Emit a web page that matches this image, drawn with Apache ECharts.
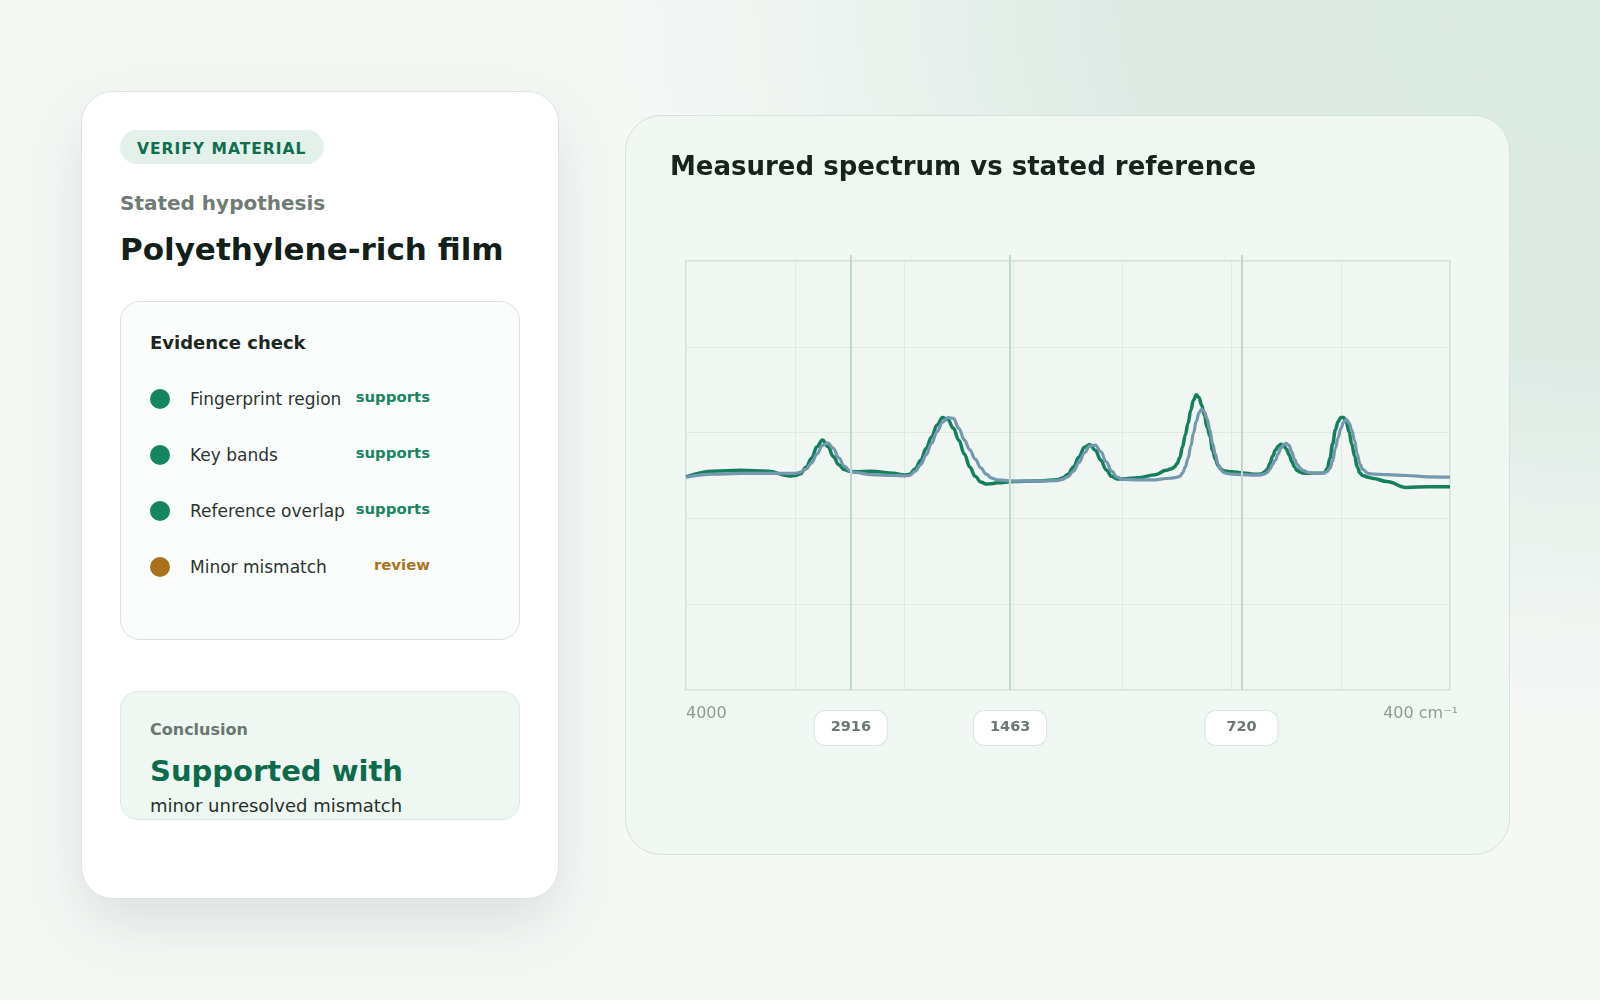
<!DOCTYPE html>
<html>
<head>
<meta charset="utf-8">
<title>Verify material</title>
<script src="https://cdn.jsdelivr.net/npm/echarts@6/dist/echarts.min.js"></script>
<style>
html, body { margin: 0; padding: 0; }
body {
	width: 1600px; height: 1000px; overflow: hidden; position: relative;
	font-family: 'DejaVu Sans', sans-serif; background: #f6f8f6;
}
.glow {
	position: absolute; left: 0; top: 0; width: 1600px; height: 1000px;
	background: radial-gradient(ellipse 1000px 720px at 1620px 0px, #dbeae3 0%, #deebe5 50%, rgba(246,248,246,0) 100%);
}
.card {
	position: absolute; left: 81px; top: 91px; width: 478px; height: 808px; box-sizing: border-box;
	background: #fff; border: 1.5px solid #dde5e0; border-radius: 32px;
	box-shadow: 0 26px 64px rgba(30, 50, 40, 0.12);
}
.pill {
	position: absolute; left: 38px; top: 38px; width: 204px; height: 34px; border-radius: 17px;
	background: #e3f1ea; color: #0f6e4e; font-weight: bold; font-size: 15.5px; line-height: 38px;
	box-sizing: border-box; padding-left: 17px; letter-spacing: 1px;
}
.sub { position: absolute; left: 38px; top: 99px; font-size: 20px; line-height: 24px; font-weight: bold; color: #6f7b75; }
.head { position: absolute; left: 38px; top: 138px; font-size: 31px; line-height: 38px; font-weight: bold; color: #13201a; white-space: nowrap; }
.evidence {
	position: absolute; left: 38px; top: 209px; width: 400px; height: 339px; box-sizing: border-box;
	border: 1.5px solid #d9e3de; border-radius: 20px; background: #fbfdfc;
}
.evidence h4 { position: absolute; left: 29px; top: 30px; margin: 0; font-size: 18px; line-height: 22px; color: #1c2722; }
.row { position: absolute; left: 0; width: 400px; height: 24px; }
.row .dot { position: absolute; left: 29px; top: 2px; width: 20px; height: 20px; border-radius: 50%; }
.row .lbl { position: absolute; left: 69px; top: 0; font-size: 17px; line-height: 24px; color: #2a3430; white-space: nowrap; }
.row .st { position: absolute; right: 91px; top: -2px; font-size: 14.9px; line-height: 24px; font-weight: bold; }
.conclusion {
	position: absolute; left: 38px; top: 599px; width: 400px; height: 129px; box-sizing: border-box;
	border: 1.5px solid #dde9e2; border-radius: 18px; background: #eff7f2;
}
.conclusion .k { position: absolute; left: 29px; top: 28px; font-size: 16px; line-height: 19px; font-weight: bold; color: #6a7670; }
.conclusion .big { position: absolute; left: 29px; top: 62px; font-size: 29px; line-height: 35px; font-weight: bold; color: #0b6b4b; white-space: nowrap; }
.conclusion .small { position: absolute; left: 29px; top: 103px; font-size: 18px; line-height: 22px; color: #26302b; white-space: nowrap; }
.panel {
	position: absolute; left: 625px; top: 115px; width: 885px; height: 740px; box-sizing: border-box;
	background: #f0f6f2; border: 1.5px solid #d5e2db; border-radius: 36px;
}
#spectrum { position: absolute; left: 625px; top: 115px; width: 885px; height: 740px; }
</style>
</head>
<body>
<div class="glow"></div>

<div class="card">
	<div class="pill">VERIFY MATERIAL</div>
	<div class="sub">Stated hypothesis</div>
	<div class="head">Polyethylene-rich film</div>
	<div class="evidence" id="evidence">
		<h4>Evidence check</h4>
	</div>
	<div class="conclusion">
		<div class="k">Conclusion</div>
		<div class="big">Supported with</div>
		<div class="small">minor unresolved mismatch</div>
	</div>
</div>

<div class="panel"></div>
<div id="spectrum"></div>

<script>
// evidence rows
var checkNames = ['Fingerprint region', 'Key bands', 'Reference overlap', 'Minor mismatch'];
var checkStates = ['supports', 'supports', 'supports', 'review'];

// spectrum: x is position along the plot (0 = 4000, 70 = 400 cm-1), y is signal
var wavePos = [
	0, 2.5, 5, 7.5, 9.5, 10,
	10.5, 11, 11.5, 12, 12.5, 13, 13.5, 14, 14.5, 15, 15.5,
	17, 19, 20,
	20.5, 21, 21.5, 22, 22.5, 23, 23.5, 24, 24.5, 25, 25.5, 26, 26.5, 27, 27.5, 28, 28.5,
	30, 32, 34,
	34.5, 35, 35.5, 36, 36.5, 37, 37.5, 38, 38.5, 39, 39.5, 40,
	41.5, 43, 44,
	44.5, 44.75, 45, 45.25, 45.5, 45.75, 46, 46.25, 46.5, 46.75, 47, 47.25, 47.5, 47.75, 48, 48.25, 48.5, 48.75, 49, 49.25, 49.5, 50, 51, 52,
	52.5, 52.75, 53, 53.25, 53.5, 53.75, 54, 54.25, 54.5, 54.75, 55, 55.25, 55.5, 55.75, 56, 56.25, 56.5, 57, 57.5,
	58, 58.25, 58.5, 58.75, 59, 59.25, 59.5, 59.75, 60, 60.25, 60.5, 60.75, 61, 61.25, 61.5, 61.75, 62, 62.5, 63, 64.2, 66, 68, 70
];
var measured = [
	49.7, 51.0, 51.2, 51.0, 49.9, 50.0,
	50.4, 51.9, 54.0, 56.7, 58.3, 56.8, 54.4, 52.5, 51.4, 51.0, 50.9,
	51.0, 50.5, 50.1,
	50.3, 51.6, 53.5, 56.3, 59.0, 61.8, 63.5, 63.0, 61.0, 58.2, 55.0, 52.0, 49.8, 48.5, 48.0, 48.1, 48.3,
	48.6, 48.7, 49.0,
	49.4, 50.3, 52.0, 54.3, 56.6, 57.2, 55.9, 53.6, 51.3, 49.8, 49.2, 49.2,
	49.5, 50.2, 51.2,
	51.6, 52.0, 52.8, 54.2, 56.7, 59.5, 62.2, 65.2, 67.6, 68.8, 68.2, 66.4, 64.0, 61.2, 59.2, 55.8, 53.8, 52.4, 51.6, 51.1, 51.0, 50.9, 50.6, 50.3,
	50.3, 50.4, 50.8, 51.4, 52.8, 54.5, 55.8, 56.8, 57.3, 57.1, 56.2, 54.9, 53.3, 52.0, 51.2, 50.8, 50.6, 50.5, 50.5,
	50.5, 50.5, 50.7, 51.6, 54.0, 57.4, 60.6, 62.6, 63.5, 63.5, 62.4, 60.2, 57.3, 54.6, 52.0, 50.6, 50.0, 49.6, 49.3, 48.6, 47.2, 47.4, 47.4
];
var reference = [
	49.6, 50.3, 50.5, 50.5, 50.5, 50.5,
	50.8, 51.5, 52.9, 55.0, 57.0, 57.6, 56.3, 54.1, 52.2, 51.1, 50.7,
	50.2, 50.0, 49.9,
	50.0, 51.0, 52.5, 54.8, 57.5, 60.2, 62.4, 63.5, 63.3, 61.0, 58.3, 56.0, 53.8, 51.8, 50.3, 49.4, 49.0,
	48.7, 48.7, 48.8,
	49.1, 49.7, 51.0, 53.0, 55.3, 56.9, 57.1, 55.6, 53.2, 51.0, 49.6, 49.1,
	49.0, 49.0, 49.3,
	49.4, 49.5, 49.6, 49.8, 50.6, 52.0, 54.0, 56.8, 59.9, 62.6, 64.6, 65.5, 64.8, 63.2, 60.6, 57.4, 55.0, 52.6, 51.4, 50.7, 50.5, 50.3, 50.2, 50.1,
	50.1, 50.2, 50.4, 50.7, 51.5, 52.6, 53.6, 55.0, 56.3, 57.2, 57.5, 57.0, 55.5, 53.8, 52.6, 51.8, 51.2, 50.7, 50.5,
	50.5, 50.5, 50.6, 50.9, 51.7, 53.4, 56.4, 58.8, 61.0, 62.4, 63.1, 62.3, 60.6, 58.2, 55.0, 52.6, 51.4, 50.5, 50.3, 50.2, 50.0, 49.7, 49.6
];
var bandPos = [15.1, 29.7, 50.9];
var bandLabels = ['2916', '1463', '720'];
var axisEnds = ['4000', '400 cm\u207B\u00B9'];

(function() {
	var box = document.getElementById('evidence');
	for (var i = 0; i < checkNames.length; i++) {
		var ok = checkStates[i] === 'supports';
		var row = document.createElement('div');
		row.className = 'row';
		row.style.top = (85 + i * 56) + 'px';
		row.innerHTML = '<span class="dot" style="background:' + (ok ? '#138560' : '#a8711c') + '"></span>' +
			'<span class="lbl">' + checkNames[i] + '</span>' +
			'<span class="st" style="color:' + (ok ? '#17855f' : '#a87320') + '">' + checkStates[i] + '</span>';
		box.appendChild(row);
	}
})();

var myChart = echarts.init(document.getElementById('spectrum'));

function pairs(ys) {
	return wavePos.map(function(x, i) { return [x, ys[i]]; });
}

var bandLines = bandPos.map(function(p, i) {
	return { xAxis: p, name: bandLabels[i] };
});

var option = {
	animation: false,
	title: {
		text: 'Measured spectrum vs stated reference',
		left: 40,
		top: 35,
		textStyle: { fontFamily: 'DejaVu Sans', fontSize: 26, fontWeight: 'bold', color: '#17231d' }
	},
	grid: [
		{ left: 61, right: 60, top: 146, bottom: 165, show: true, borderColor: '#d4e2da', borderWidth: 2, backgroundColor: 'transparent' },
		{ left: 61, right: 60, top: 140, bottom: 165 }
	],
	xAxis: [{
		type: 'value', gridIndex: 0, min: 0, max: 70, interval: 10,
		axisLine: { show: false }, axisTick: { show: false },
		splitLine: { lineStyle: { color: '#dfeae4', width: 1 } },
		axisLabel: {
			margin: 16, fontFamily: 'DejaVu Sans', fontSize: 16, color: '#8e9c95',
			alignMinLabel: 'left', alignMaxLabel: 'right',
			formatter: function(v) {
				if (v === 0) return axisEnds[0];
				if (v === 70) return '{end|' + axisEnds[1] + '}';
				return '';
			},
			rich: {
				end: { fontFamily: 'DejaVu Sans', fontSize: 16, color: '#8e9c95', padding: [0, -8, 0, 0] }
			}
		}
	}, {
		type: 'value', gridIndex: 1, min: 0, max: 70, show: false
	}],
	yAxis: [{
		type: 'value', gridIndex: 0, min: 0, max: 100, interval: 20,
		axisLine: { show: false }, axisTick: { show: false }, axisLabel: { show: false },
		splitLine: { lineStyle: { color: '#dfeae4', width: 1 } }
	}, {
		type: 'value', gridIndex: 1, min: 0, max: 100, show: false
	}],
	series: [{
		name: 'bands',
		type: 'line',
		xAxisIndex: 1,
		yAxisIndex: 1,
		data: [],
		z: 1,
		silent: true,
		markLine: {
			silent: true,
			symbol: ['none', 'none'],
			lineStyle: { color: '#c3d8cc', width: 2, type: 'solid' },
			label: {
				position: 'start',
				distance: 21,
				formatter: '{b}',
				fontFamily: 'DejaVu Sans',
				fontSize: 14.5,
				fontWeight: 'bold',
				color: '#6a7871',
				backgroundColor: '#ffffff',
				borderColor: '#dbe6e0',
				borderWidth: 1,
				borderRadius: 10,
				width: 36,
				align: 'center',
				padding: [9, 18, 10, 18]
			},
			data: bandLines
		}
	}, {
		name: 'Measured',
		type: 'line',
		data: pairs(measured),
		showSymbol: false,
		smooth: 0.4,
		smoothMonotone: 'x',
		z: 3,
		lineStyle: { color: '#12805b', width: 3.5 }
	}, {
		name: 'Reference',
		type: 'line',
		data: pairs(reference),
		showSymbol: false,
		smooth: 0.4,
		smoothMonotone: 'x',
		z: 4,
		lineStyle: { color: '#7698af', width: 3.2 }
	}]
};
myChart.setOption(option);
window.onresize = function() {
	myChart.resize();
};
</script>
</body>
</html>
